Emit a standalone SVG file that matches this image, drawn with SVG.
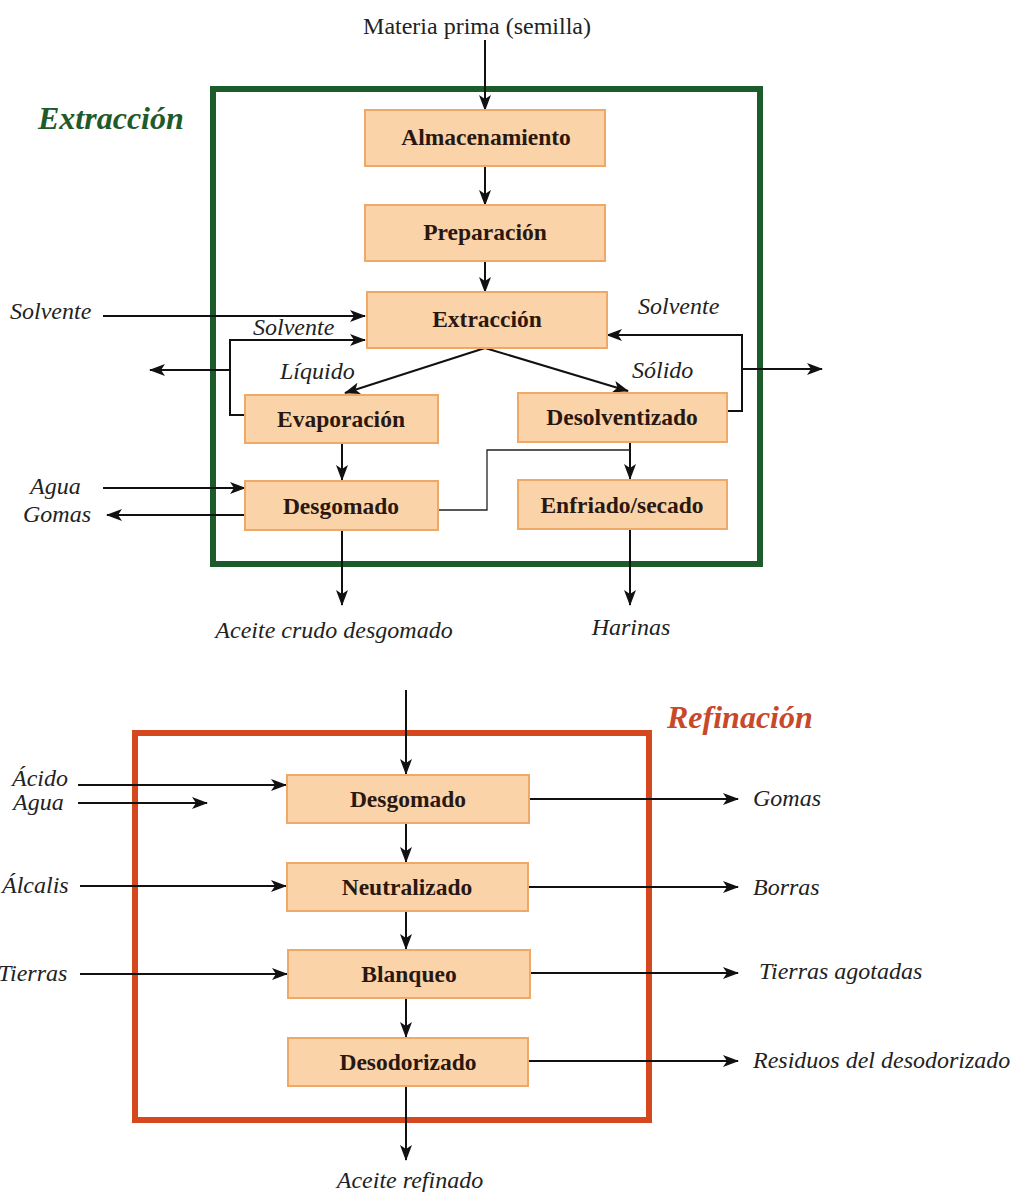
<svg xmlns="http://www.w3.org/2000/svg" width="1013" height="1192" viewBox="0 0 1013 1192">
<defs>
<marker id="ah" markerUnits="userSpaceOnUse" markerWidth="16" markerHeight="12" viewBox="0 0 16 12" refX="15" refY="6" orient="auto">
<path d="M0,0 L16,6 L0,12 L4,6 Z" fill="#111"/>
</marker>
</defs>
<style>
.box{fill:#fbd3a9;stroke:#efa866;stroke-width:2}
.bt{font-family:"Liberation Serif",serif;font-weight:bold;font-size:23.5px;fill:#2a1810;text-anchor:middle}
.lb{font-family:"Liberation Serif",serif;font-style:italic;font-size:24px;fill:#222}
.ln{fill:none;stroke:#111;stroke-width:2}
.lt{fill:none;stroke:#222;stroke-width:1.3}
.a{marker-end:url(#ah)}
</style>
<rect width="1013" height="1192" fill="#fff"/>
<rect x="213" y="89" width="547" height="475" fill="none" stroke="#1d5b2a" stroke-width="6"/>
<text x="38" y="129" font-family="Liberation Serif,serif" font-weight="bold" font-style="italic" font-size="32" fill="#1f5a2a">Extracción</text>
<rect x="135" y="733" width="514" height="387" fill="none" stroke="#d5471c" stroke-width="6"/>
<text x="667" y="728" font-family="Liberation Serif,serif" font-weight="bold" font-style="italic" font-size="32" fill="#c8482a">Refinación</text>

<g id="connectors">
<path class="ln a" d="M485,40 V110"/>
<path class="ln a" d="M485,166 V205"/>
<path class="ln a" d="M485,261 V292"/>
<path class="ln a" d="M103,316 H365"/>
<path class="ln a" d="M245,415 H230 V340 H365"/>
<path class="ln a" d="M230,370 H150"/>
<path class="ln a" d="M485,348 L345,393"/>
<path class="ln a" d="M485,348 L628,391"/>
<path class="ln a" d="M727,411 H742 V335 H607"/>
<path class="ln a" d="M742,369 H822"/>
<path class="ln a" d="M342,443 V480"/>
<path class="ln a" d="M630,442 V479"/>
<path class="lt" d="M438,510 H487 V450 H630"/>
<path class="ln a" d="M103,488 H245"/>
<path class="ln a" d="M245,515 H107"/>
<path class="ln a" d="M342,530 V605"/>
<path class="ln a" d="M630,529 V605"/>

<path class="ln a" d="M406,690 V774"/>
<path class="ln a" d="M406,823 V862"/>
<path class="ln a" d="M406,911 V949"/>
<path class="ln a" d="M406,998 V1037"/>
<path class="ln a" d="M406,1086 V1160"/>
<path class="ln a" d="M78,785 H286"/>
<path class="ln a" d="M78,803 H207"/>
<path class="ln a" d="M80,886 H286"/>
<path class="ln a" d="M80,974 H287"/>
<path class="ln a" d="M529,799 H738"/>
<path class="ln a" d="M528,887 H738"/>
<path class="ln a" d="M530,973 H738"/>
<path class="ln a" d="M528,1061 H738"/>
</g>

<g id="n-almacenamiento"><rect class="box" x="365" y="110" width="240" height="56"/><text class="bt" x="486" y="145">Almacenamiento</text></g>
<g id="n-preparacion"><rect class="box" x="365" y="205" width="240" height="56"/><text class="bt" x="485" y="240">Preparación</text></g>
<g id="n-extraccion"><rect class="box" x="367" y="292" width="240" height="56"/><text class="bt" x="487" y="327">Extracción</text></g>
<g id="n-evaporacion"><rect class="box" x="245" y="395" width="193" height="48"/><text class="bt" x="341" y="427">Evaporación</text></g>
<g id="n-desolventizado"><rect class="box" x="518" y="393" width="209" height="49"/><text class="bt" x="622" y="425">Desolventizado</text></g>
<g id="n-desgomado1"><rect class="box" x="245" y="481" width="193" height="49"/><text class="bt" x="341" y="514">Desgomado</text></g>
<g id="n-enfriado"><rect class="box" x="518" y="480" width="209" height="49"/><text class="bt" x="622" y="513">Enfriado/secado</text></g>

<g id="n-desgomado2"><rect class="box" x="287" y="775" width="242" height="48"/><text class="bt" x="408" y="807">Desgomado</text></g>
<g id="n-neutralizado"><rect class="box" x="287" y="863" width="241" height="48"/><text class="bt" x="407" y="895">Neutralizado</text></g>
<g id="n-blanqueo"><rect class="box" x="288" y="950" width="242" height="48"/><text class="bt" x="409" y="982">Blanqueo</text></g>
<g id="n-desodorizado"><rect class="box" x="288" y="1038" width="240" height="48"/><text class="bt" x="408" y="1070">Desodorizado</text></g>

<g id="labels">
<text x="477" y="34" font-family="Liberation Serif,serif" font-size="24" fill="#222" text-anchor="middle">Materia prima (semilla)</text>
<text class="lb" x="10" y="319">Solvente</text>
<text class="lb" x="253" y="335">Solvente</text>
<text class="lb" x="638" y="314">Solvente</text>
<text class="lb" x="280" y="379">Líquido</text>
<text class="lb" x="632" y="378">Sólido</text>
<text class="lb" x="30" y="494">Agua</text>
<text class="lb" x="23" y="522">Gomas</text>
<text class="lb" x="334" y="638" text-anchor="middle">Aceite crudo desgomado</text>
<text class="lb" x="631" y="635" text-anchor="middle">Harinas</text>
<text class="lb" x="12" y="786">Ácido</text>
<text class="lb" x="13" y="810">Agua</text>
<text class="lb" x="2" y="893">Álcalis</text>
<text class="lb" x="-2" y="981">Tierras</text>
<text class="lb" x="753" y="806">Gomas</text>
<text class="lb" x="753" y="895">Borras</text>
<text class="lb" x="759" y="979">Tierras agotadas</text>
<text class="lb" x="753" y="1068">Residuos del desodorizado</text>
<text class="lb" x="410" y="1188" text-anchor="middle">Aceite refinado</text>
</g>
</svg>
